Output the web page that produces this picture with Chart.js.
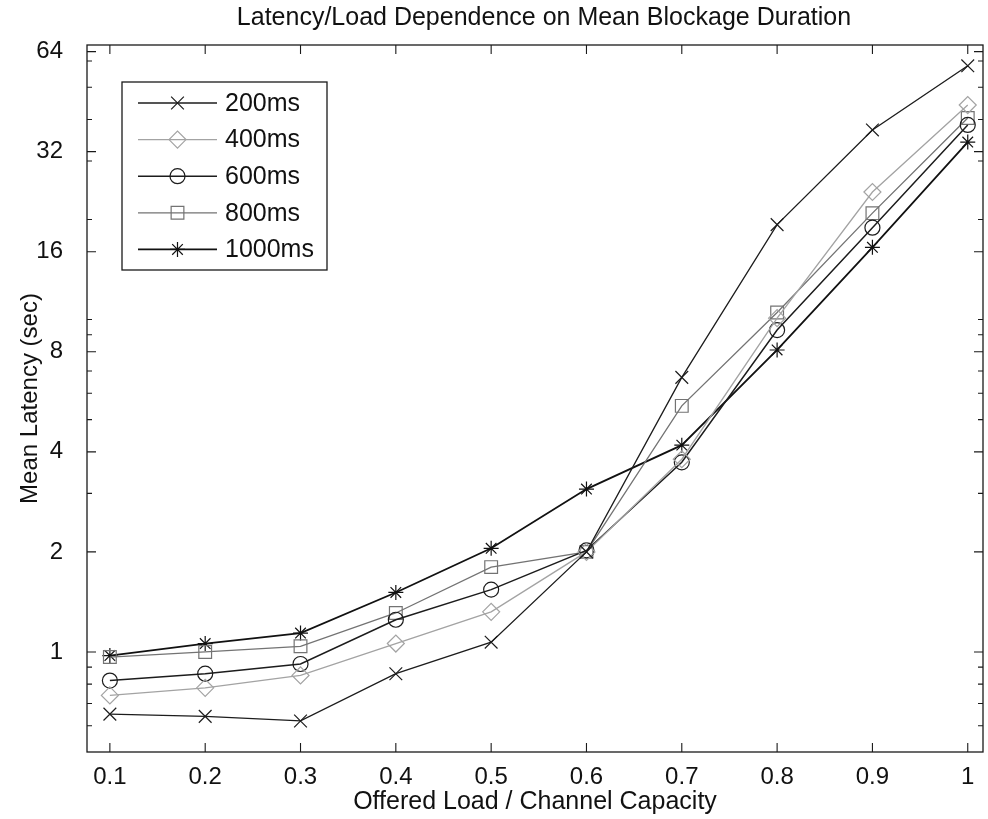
<!DOCTYPE html>
<html>
<head>
<meta charset="utf-8">
<script src="https://cdn.jsdelivr.net/npm/chart.js@4"></script>
<style>
  html, body { margin: 0; padding: 0; background: #fff; overflow: hidden; }
  #wrap { width: 988px; height: 819px; }
  canvas { display: block; }
</style>
</head>
<body>
<div id="wrap"><canvas id="myChart" width="988" height="819"></canvas></div>
<script>
// offered load (x) and mean latency per blockage duration (y, sec)
const loads = [0.1, 0.2, 0.3, 0.4, 0.5, 0.6, 0.7, 0.8, 0.9, 1.0];
const lat200 = [0.65, 0.64, 0.62, 0.86, 1.07, 2.0, 6.7, 19.3, 37.2, 58];
const lat400 = [0.74, 0.78, 0.85, 1.06, 1.32, 2.0, 3.8, 10.1, 24.2, 44.2];
const lat600 = [0.82, 0.86, 0.92, 1.25, 1.54, 2.02, 3.72, 9.3, 18.9, 38.5];
const lat800 = [0.965, 1.0, 1.04, 1.31, 1.8, 2.0, 5.5, 10.5, 20.9, 40.4];
const lat1000 = [0.975, 1.06, 1.14, 1.51, 2.05, 3.09, 4.19, 8.1, 16.5, 34.2];

const xTicks = [0.1, 0.2, 0.3, 0.4, 0.5, 0.6, 0.7, 0.8, 0.9, 1];
const xTickLabels = ['0.1', '0.2', '0.3', '0.4', '0.5', '0.6', '0.7', '0.8', '0.9', '1'];
const yTicks = [1, 2, 4, 8, 16, 32, 64];
const yMinor = [0.6, 0.7, 0.8, 0.9, 3, 5, 6, 7, 9, 10, 20, 30, 40, 50, 60];

const chartTitle = 'Latency/Load Dependence on Mean Blockage Duration';
const FONT = '"Liberation Sans", Arial, Helvetica, sans-serif';

function pts(ys) {
  return loads.map((x, i) => ({x: x, y: ys[i]}));
}

function series(label, ys, color, style, radius, width) {
  return {
    label: label,
    data: pts(ys),
    borderColor: color,
    borderWidth: width,
    pointStyle: style,
    pointRadius: radius,
    pointHoverRadius: radius,
    pointBorderColor: color,
    pointBackgroundColor: 'rgba(0,0,0,0)',
    pointBorderWidth: 1.2,
    tension: 0
  };
}

// box, inward tick marks and a title centred over the axes
const framePlugin = {
  id: 'frame',
  beforeDatasetsDraw(chart) {
    const {ctx, chartArea: a, scales} = chart;
    ctx.save();
    ctx.fillStyle = '#111';
    ctx.font = '25px ' + FONT;
    ctx.textAlign = 'center';
    ctx.textBaseline = 'middle';
    ctx.fillText(chartTitle, (a.left + a.right) / 2 + 9, 18);

    ctx.strokeStyle = '#1a1a1a';
    ctx.lineWidth = 1.3;
    ctx.strokeRect(a.left, a.top, a.right - a.left, a.bottom - a.top);
    ctx.lineWidth = 1.1;
    ctx.beginPath();
    xTicks.forEach(v => {
      const px = scales.x.getPixelForValue(v);
      ctx.moveTo(px, a.bottom); ctx.lineTo(px, a.bottom - 9);
      ctx.moveTo(px, a.top); ctx.lineTo(px, a.top + 9);
    });
    yTicks.forEach(v => {
      const py = scales.y.getPixelForValue(v);
      ctx.moveTo(a.left, py); ctx.lineTo(a.left + 9, py);
      ctx.moveTo(a.right, py); ctx.lineTo(a.right - 9, py);
    });
    yMinor.forEach(v => {
      const py = scales.y.getPixelForValue(v);
      ctx.moveTo(a.left, py); ctx.lineTo(a.left + 5, py);
      ctx.moveTo(a.right, py); ctx.lineTo(a.right - 5, py);
    });
    ctx.stroke();
    ctx.restore();
  }
};

// MATLAB style legend: line sample with marker in the middle
const legendPlugin = {
  id: 'boxLegend',
  afterDatasetsDraw(chart) {
    const ctx = chart.ctx;
    const bx = 122, by = 82, bw = 205, bh = 188;
    ctx.save();
    ctx.fillStyle = '#fff';
    ctx.fillRect(bx, by, bw, bh);
    ctx.strokeStyle = '#1a1a1a';
    ctx.lineWidth = 1.3;
    ctx.strokeRect(bx, by, bw, bh);
    chart.data.datasets.forEach((ds, i) => {
      const y = by + 21 + i * 36.6;
      ctx.strokeStyle = ds.borderColor;
      ctx.lineWidth = ds.borderWidth;
      ctx.beginPath();
      ctx.moveTo(bx + 16, y);
      ctx.lineTo(bx + 95, y);
      ctx.stroke();
      ctx.fillStyle = 'rgba(0,0,0,0)';
      ctx.lineWidth = ds.pointBorderWidth;
      Chart.helpers.drawPoint(ctx, {pointStyle: ds.pointStyle, radius: ds.pointRadius, rotation: 0, borderWidth: ds.pointBorderWidth}, bx + 55.5, y);
      ctx.fillStyle = '#111';
      ctx.font = '25px ' + FONT;
      ctx.textBaseline = 'middle';
      ctx.textAlign = 'left';
      ctx.fillText(ds.label, bx + 103, y + 1);
    });
    ctx.restore();
  }
};

new Chart(document.getElementById('myChart'), {
  type: 'line',
  data: {
    datasets: [
      series('200ms', lat200, '#1c1c1c', 'crossRot', 9, 1.3),
      series('400ms', lat400, '#a3a3a3', 'rectRot', 8.5, 1.3),
      series('600ms', lat600, '#1c1c1c', 'circle', 7.5, 1.5),
      series('800ms', lat800, '#737373', 'rect', 9, 1.3),
      series('1000ms', lat1000, '#111111', 'star', 7.5, 1.8)
    ]
  },
  options: {
    responsive: false,
    animation: false,
    events: [],
    layout: { autoPadding: false, padding: { top: 45, left: 0, right: 5, bottom: 0 } },
    plugins: {
      legend: { display: false },
      tooltip: { enabled: false },
      title: { display: false }
    },
    scales: {
      x: {
        type: 'linear',
        min: 0.076,
        max: 1.016,
        bounds: 'data',
        grid: { display: false },
        border: { display: false },
        afterBuildTicks: s => { s.ticks = xTicks.map(v => ({value: v})); },
        afterFit: s => { s.height = 67; s.paddingLeft = 0; s.paddingRight = 0; },
        ticks: {
          color: '#111',
          font: { family: FONT, size: 24 },
          padding: 3,
          maxRotation: 0,
          autoSkip: false,
          callback: (v, i) => xTickLabels[i]
        },
        title: {
          display: true,
          text: 'Offered Load / Channel Capacity',
          color: '#111',
          font: { family: FONT, size: 25 },
          padding: { top: 0, bottom: 2 }
        }
      },
      y: {
        type: 'logarithmic',
        min: 0.5,
        max: 67,
        bounds: 'data',
        grid: { display: false },
        border: { display: false },
        afterBuildTicks: s => { s.ticks = yTicks.map(v => ({value: v})); },
        afterFit: s => { s.width = 87; },
        ticks: {
          color: '#111',
          font: { family: FONT, size: 24 },
          padding: 16,
          autoSkip: false,
          callback: v => String(v)
        },
        title: {
          display: true,
          text: 'Mean Latency (sec)',
          color: '#111',
          font: { family: FONT, size: 24 },
          padding: { top: 16, bottom: 0 }
        }
      }
    }
  },
  plugins: [framePlugin, legendPlugin]
});
</script>
</body>
</html>
